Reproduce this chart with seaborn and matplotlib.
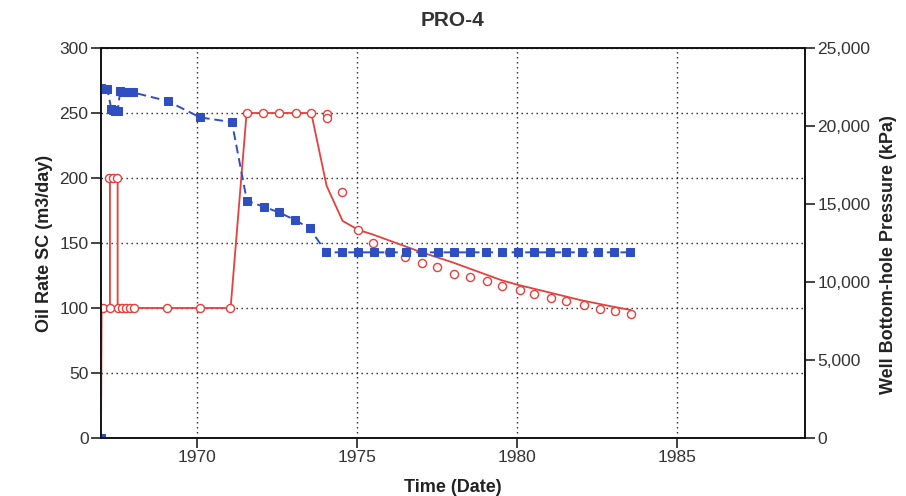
import matplotlib
matplotlib.use("Agg")
import matplotlib.pyplot as plt
import pandas as pd
import seaborn as sns
from matplotlib.ticker import FuncFormatter

# Simulated oil rate, m3/day (solid red line)
sim_t = [1967.0, 1967.02, 1967.28, 1967.28, 1967.52, 1967.52, 1971.05, 1971.55,
         1973.57, 1974.05, 1974.55, 1975.05, 1975.5, 1976.0, 1976.5, 1977.0,
         1977.5, 1978.0, 1978.5, 1979.0, 1979.5, 1980.0, 1980.5, 1981.0,
         1981.5, 1982.0, 1982.5, 1983.0, 1983.55]
sim_rate = [0, 100, 100, 200, 200, 100, 100, 250,
            250, 194, 167, 160, 156.5, 152, 147.5, 143,
            139, 135, 130.5, 126, 121.5, 118, 115, 112,
            109, 106, 103.5, 101, 98.5]

# Measured oil rate, m3/day (open circles)
obs_t = [1967.07, 1967.29, 1967.26, 1967.38, 1967.51, 1967.54, 1967.67, 1967.79,
         1967.92, 1968.04, 1969.06, 1970.08, 1971.04, 1971.57, 1972.07, 1972.57,
         1973.08, 1973.57, 1974.05, 1974.07, 1974.54, 1975.04, 1975.5, 1976.0,
         1976.5, 1977.03, 1977.5, 1978.02, 1978.54, 1979.06, 1979.53, 1980.08,
         1980.52, 1981.06, 1981.54, 1982.08, 1982.58, 1983.07, 1983.56]
obs_rate = [100, 100, 200, 200, 200, 100, 100, 100,
            100, 100, 100, 100, 100, 250, 250, 250,
            250, 250, 249, 246, 189, 160, 150, 143,
            139, 134.5, 131.5, 126.5, 124, 121, 117, 114,
            111, 108, 105.5, 102.5, 99.5, 97.5, 95.5]

# Well bottom-hole pressure, kPa (blue squares, dashed)
bhp_t = [1967.0, 1967.0, 1967.1, 1967.2, 1967.32, 1967.38, 1967.45, 1967.52,
         1967.6, 1967.7, 1967.8, 1967.9, 1968.0, 1969.08, 1970.1, 1971.09,
         1971.56, 1972.08, 1972.55, 1973.07, 1973.52,
         1974.04, 1974.54, 1975.04, 1975.54, 1976.04, 1976.54, 1977.04, 1977.54,
         1978.04, 1978.54, 1979.04, 1979.54, 1980.04, 1980.54, 1981.04, 1981.54,
         1982.04, 1982.54, 1983.04, 1983.54]
bhp_kpa = [0, 22450, 22400, 22350, 21100, 21000, 20950, 20950,
           22250, 22200, 22200, 22150, 22150, 21600, 20550, 20250,
           15200, 14830, 14470, 13970, 13440,
           11900, 11900, 11900, 11900, 11900, 11900, 11900, 11900,
           11900, 11900, 11900, 11900, 11900, 11900, 11900, 11900,
           11900, 11900, 11900, 11900]

x_ticks = [1970, 1975, 1980, 1985]
rate_ticks = [0, 50, 100, 150, 200, 250, 300]
bhp_ticks = [0, 5000, 10000, 15000, 20000, 25000]

sim_df = pd.DataFrame({"t": sim_t, "rate": sim_rate})
obs_df = pd.DataFrame({"t": obs_t, "rate": obs_rate})
bhp_df = pd.DataFrame({"t": bhp_t, "bhp": bhp_kpa})

sns.set_style("ticks")
plt.rcParams["font.family"] = ["Liberation Sans", "DejaVu Sans"]

RED = "#e5403c"
BLUE = "#2f4fc0"
TXT = "#333333"

fig = plt.figure(figsize=(9.06, 4.96), dpi=100)
ax = fig.add_axes([101 / 906, 58 / 496, 704 / 906, 390 / 496])
ax2 = ax.twinx()

sns.lineplot(data=sim_df, x="t", y="rate", ax=ax, color=RED, lw=1.3,
             estimator=None, sort=False, zorder=3)
sns.scatterplot(data=obs_df, x="t", y="rate", ax=ax, marker="o", s=34,
                facecolor="white", edgecolor=RED, linewidth=1.0, zorder=4)

# pressure drawn just under the spines so the start-up jump hides behind the axis line
sns.lineplot(data=bhp_df, x="t", y="bhp", ax=ax2, color=BLUE, lw=1.4,
             estimator=None, sort=False, linestyle=(0, (4.5, 2.5)),
             marker="s", markersize=6, markeredgecolor=BLUE,
             markerfacecolor=BLUE, zorder=2.4)

ax.set_xlim(1967, 1989)
ax.set_ylim(0, 300)
ax2.set_ylim(0, 25000)

ax.set_xticks(x_ticks)
ax.set_yticks(rate_ticks)
ax2.set_yticks(bhp_ticks)
ax2.yaxis.set_major_formatter(FuncFormatter(lambda v, p: f"{int(v):,}"))

ax.set_axisbelow(True)
ax.grid(True, which="major", color="#222222", lw=1.0, linestyle=(0, (1, 2.6)))
ax2.grid(False)

for a in (ax, ax2):
    for sp in a.spines.values():
        sp.set_visible(True)
        sp.set_color("#111111")
        sp.set_linewidth(1.2)
    a.tick_params(direction="out", length=7, width=1.1, color="#111111",
                  labelsize=12.5, labelcolor=TXT, pad=2)

ax.set_xlabel("Time (Date)", fontsize=13, fontweight="bold", color="#222222")
ax.xaxis.set_label_coords(0.5, -0.126)
ax.xaxis.label.set_va("center")

ax.set_ylabel("Oil Rate SC (m3/day)", fontsize=13, fontweight="bold", color="#222222")
ax.yaxis.set_label_coords(-0.08, 0.5)
ax.yaxis.label.set_va("center")

ax2.set_ylabel("Well Bottom-hole Pressure (kPa)", fontsize=13, fontweight="bold",
               color="#222222", rotation=90)
ax2.yaxis.set_label_coords(1.118, 0.47)
ax2.yaxis.label.set_va("center")

fig.text(453 / 906, 1 - 20 / 496, "PRO-4", ha="center", va="center",
         fontsize=15, fontweight="bold", color="#333333")

fig.savefig("out.png", dpi=100)
